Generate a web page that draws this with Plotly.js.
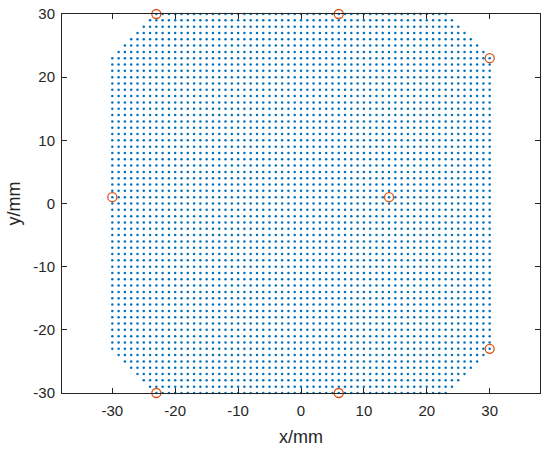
<!DOCTYPE html>
<html>
<head>
<meta charset="utf-8">
<script src="https://cdn.plot.ly/plotly-3.0.1.min.js"></script>
<style>html,body{margin:0;padding:0;background:#fff;}#chart{width:550px;height:452px;}</style>
</head>
<body>
<div id="chart"></div>
<script>
// Grid rows (y, in mm) and the x extent of each row
const rowY    = [-30,-29,-28,-27,-26,-25,-24,-23,-22,-21,-20,-19,-18,-17,-16,-15,-14,-13,-12,-11,-10,-9,-8,-7,-6,-5,-4,-3,-2,-1,0,1,2,3,4,5,6,7,8,9,10,11,12,13,14,15,16,17,18,19,20,21,22,23,24,25,26,27,28,29,30];
const rowXMin = [-23,-24,-25,-26,-27,-28,-29,-30,-30,-30,-30,-30,-30,-30,-30,-30,-30,-30,-30,-30,-30,-30,-30,-30,-30,-30,-30,-30,-30,-30,-30,-30,-30,-30,-30,-30,-30,-30,-30,-30,-30,-30,-30,-30,-30,-30,-30,-30,-30,-30,-30,-30,-30,-30,-29,-28,-27,-26,-25,-24,-23];
const rowXMax = [23,24,25,26,27,28,29,30,30,30,30,30,30,30,30,30,30,30,30,30,30,30,30,30,30,30,30,30,30,30,30,30,30,30,30,30,30,30,30,30,30,30,30,30,30,30,30,30,30,30,30,30,30,30,29,28,27,26,25,24,23];
const gridStep = 1;

// Highlighted points (orange circles)
const markX = [-23, 6, 30, -30, 14, 30, -23, 6];
const markY = [30, 30, 23, 1, 1, -23, -30, -30];

const xTicks = [-30,-20,-10,0,10,20,30];
const yTicks = [-30,-20,-10,0,10,20,30];

const gx = [], gy = [];
rowY.forEach((y, i) => {
  for (let x = rowXMin[i]; x <= rowXMax[i] + 1e-9; x += gridStep) {
    gx.push(x); gy.push(y);
  }
});

const axisColor = '#262626';
const fontFam = 'Liberation Sans, Arial, sans-serif';
const traces = [
  {
    x: gx, y: gy, type: 'scatter', mode: 'markers', cliponaxis: false,
    marker: {color: '#0072BD', size: 2.5, line: {width: 0}},
    hoverinfo: 'none', showlegend: false
  },
  {
    x: markX, y: markY, type: 'scatter', mode: 'markers', cliponaxis: false,
    marker: {symbol: 'circle-open', color: '#D95319', size: 9, line: {width: 1.3, color: '#D95319'}},
    hoverinfo: 'none', showlegend: false
  }
];

const baseAxis = {
  showgrid: false, zeroline: false, showline: true, mirror: 'ticks',
  linecolor: axisColor, linewidth: 1, ticks: 'inside', ticklen: 5, tickwidth: 1,
  tickcolor: axisColor, tickfont: {family: fontFam, size: 15, color: axisColor},
  fixedrange: true
};

const layout = {
  width: 550, height: 452,
  margin: {l: 62, r: 10, t: 14, b: 59, pad: 0},
  paper_bgcolor: '#ffffff', plot_bgcolor: '#ffffff',
  showlegend: false,
  xaxis: Object.assign({}, baseAxis, {
    range: [-38, 38], tickmode: 'array', tickvals: xTicks, ticktext: xTicks.map(String),
    ticklabelstandoff: 4,
    title: {text: 'x/mm', font: {family: fontFam, size: 18, color: axisColor}, standoff: 12}
  }),
  yaxis: Object.assign({}, baseAxis, {
    range: [-30, 30], tickmode: 'array', tickvals: yTicks, ticktext: yTicks.map(String),
    ticklabelstandoff: 3,
    title: {text: 'y/mm', font: {family: fontFam, size: 18, color: axisColor}, standoff: 8}
  })
};

Plotly.newPlot('chart', traces, layout, {staticPlot: true, displayModeBar: false});
</script>
</body>
</html>
